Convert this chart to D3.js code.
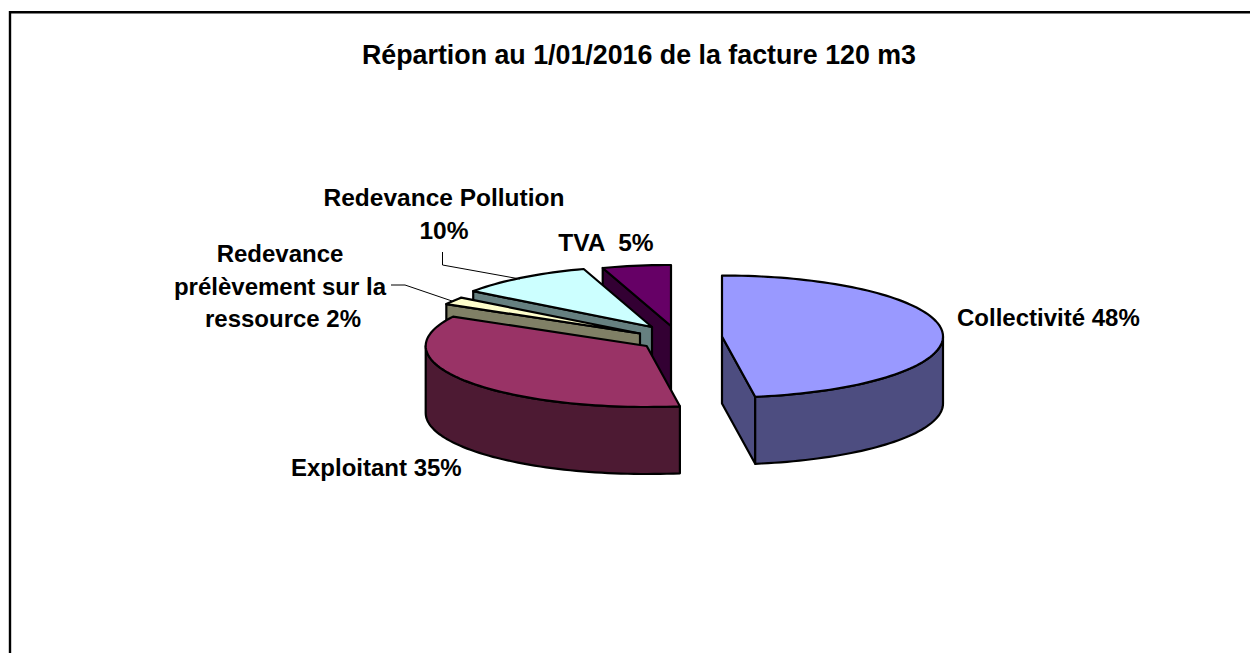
<!DOCTYPE html>
<html><head><meta charset="utf-8">
<script src="https://cdn.jsdelivr.net/npm/d3@7"></script>
<style>html,body{margin:0;padding:0;background:#fff}svg{display:block}
text{font-family:"Liberation Sans",Arial,sans-serif;font-weight:bold;fill:#000;white-space:pre}</style>
</head><body><div id="chart"></div>
<script>
const title = "Répartion au 1/01/2016 de la facture 120 m3";
const categories = ["Collectivité","Exploitant","Redevance prélèvement sur la ressource","Redevance Pollution","TVA"];
const values = [47.6,35.4,2,10,5];
const topColors = ["#9999FF","#993366","#FFFFCC","#CCFFFF","#660066"];
const wallColors = ["#4D4D80","#4D1A33","#808066","#668080","#330033"];

// layout only: where each exploded slice sits
const sliceCentres = [[722,336.5],[646.7,346],[640,333.5],[652,327],[671,326]];
const radiusX = 221, radiusY = 61, depth = 67;
const paintOrder = [4,3,2,0,1];
const labels = [
  {i:0, lines:["Collectivité 48%"], x:[957], y:326, anchor:"start", size:24},
  {i:1, lines:["Exploitant 35%"], x:[291], y:476, anchor:"start", size:24},
  {i:2, lines:["Redevance","prélèvement sur la","ressource 2%"], x:[280,280,283], y:262, anchor:"middle", size:24},
  {i:3, lines:["Redevance Pollution","10%"], x:[444,444], y:206, anchor:"middle", size:24.5},
  {i:4, lines:["TVA  5%"], x:[606], y:251, anchor:"middle", size:24.5}
];
const leaders = [
  {i:2, pts:[[391,285],[405,285],[452,301]]},
  {i:3, pts:[[442.5,252],[442.5,265],[520,279]]}
];

const W=1250,H=653;
const svg=d3.select("#chart").append("svg").attr("width",W).attr("height",H).attr("viewBox",`0 0 ${W} ${H}`);
svg.append("path").attr("d",`M10 ${H} V12.3 H${W}`).attr("fill","none").attr("stroke","#000").attr("stroke-width",2.4);
svg.append("text").attr("x",639).attr("y",64).attr("text-anchor","middle").attr("font-size",26.8).text(title);

// d3.pie gives the angles, measured clockwise from 12 o'clock
const arcs=d3.pie().sort(null).value(d=>d)(values);
const rad2 = a=>a-Math.PI/2;              // to screen angle from +x
const line=d3.line();
const pt=(c,a,dz=0)=>[c[0]+radiusX*Math.cos(a),c[1]+radiusY*Math.sin(a)+dz];
const sample=(c,a0,a1,dz=0)=>{const n=Math.max(4,Math.ceil(Math.abs(a1-a0)/0.03));
  return d3.range(n+1).map(k=>pt(c,a0+(a1-a0)*k/n,dz));};

const g=svg.append("g").attr("stroke","#000").attr("stroke-width",2.2).attr("stroke-linejoin","round");
paintOrder.forEach(i=>{
  const c=sliceCentres[i],a0=rad2(arcs[i].startAngle),a1=rad2(arcs[i].endAngle);
  const c2=[c[0],c[1]+depth];
  // radial faces
  const face=a=>{const p=pt(c,a);return [c,p,[p[0],p[1]+depth],c2];};
  if(Math.cos(a0)<-1e-6) g.append("path").attr("d",line(face(a0))+"Z").attr("fill",wallColors[i]);
  if(Math.cos(a1)>1e-6) g.append("path").attr("d",line(face(a1))+"Z").attr("fill",wallColors[i]);
  // outer wall: visible part of the rim, angles whose sine is positive
  const turns=[0,2*Math.PI].map(o=>[Math.max(a0,o),Math.min(a1,o+Math.PI)]).filter(r=>r[1]>r[0]);
  turns.forEach(r=>{
    const pts=sample(c,r[0],r[1]).concat(sample(c,r[1],r[0],depth));
    g.append("path").attr("d",line(pts)+"Z").attr("fill",wallColors[i]);
  });
  // top surface
  g.append("path").attr("d",line([c].concat(sample(c,a0,a1)))+"Z").attr("fill",topColors[i]);
});

const lg=svg.append("g").attr("fill","none").attr("stroke","#000").attr("stroke-width",1);
leaders.forEach(l=>lg.append("path").attr("d",line(l.pts)));
labels.forEach(l=>{
  const t=svg.append("text").attr("text-anchor",l.anchor).attr("font-size",l.size);
  l.lines.forEach((s,k)=>t.append("tspan").attr("x",l.x[k]).attr("y",l.y+k*32.7).text(s));
});
</script></body></html>
